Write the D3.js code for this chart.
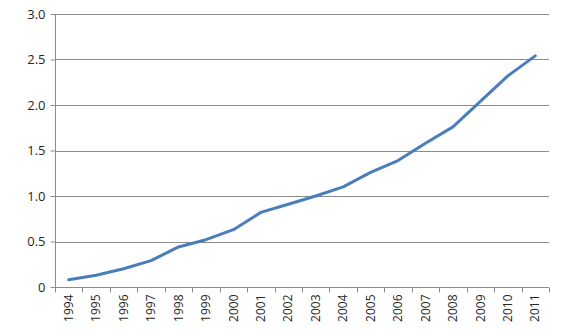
<!DOCTYPE html>
<html><head><meta charset="utf-8">
<script src="https://cdn.jsdelivr.net/npm/d3@7"></script>
<style>body{margin:0;background:#fff;}svg{display:block;}</style>
</head><body>
<svg id="c" width="563" height="335"></svg>
<script>
const years = ["1994","1995","1996","1997","1998","1999","2000","2001","2002","2003","2004","2005","2006","2007","2008","2009","2010","2011"];
const values = [0.08,0.13,0.20,0.29,0.44,0.52,0.63,0.82,0.91,1.00,1.10,1.26,1.39,1.58,1.76,2.04,2.32,2.54];
const yTicks = [0,0.5,1.0,1.5,2.0,2.5,3.0];
const yTickLabels = ["0","0.5","1.0","1.5","2.0","2.5","3.0"];

(function(){
const svg = d3.select("#c");
const pL = 55, pR = 549, pT = 14, pB = 287;
const x = d3.scaleBand().domain(years).range([pL, pR]).padding(0);
const y = d3.scaleLinear().domain([0,3]).range([pB, pT]);
const font = "'Open Sans', 'DejaVu Sans', sans-serif";
const gridCol = "#8c8c8c";

svg.append("g").selectAll("line").data(yTicks.slice(1)).join("line")
  .attr("x1", pL).attr("x2", pR)
  .attr("y1", d => Math.round(y(d))+0.5).attr("y2", d => Math.round(y(d))+0.5)
  .attr("stroke", gridCol).attr("stroke-width", 1);

const ya = svg.append("g").attr("transform", `translate(${pL+0.5},0)`)
  .call(d3.axisLeft(y).tickValues(yTicks).tickFormat((d,i)=>yTickLabels[i]).tickSize(5).tickPadding(5));
ya.select(".domain").attr("stroke", gridCol).attr("d", `M0,${pT}V${pB}`);
ya.selectAll(".tick line").attr("stroke", gridCol);
ya.selectAll(".tick text").attr("font-family", font).attr("font-size", 13).attr("fill", "#262626");

const xa = svg.append("g").attr("transform", `translate(0,${Math.round(pB)+0.5})`)
  .call(d3.axisBottom(x).tickSize(0).tickPadding(0));
xa.select(".domain").attr("stroke", gridCol).attr("d", `M${pL},0H${pR}`);
xa.selectAll(".tick line").remove();
const bounds = years.map(d => x(d)).concat([pR]);
xa.selectAll(".bt").data(bounds).join("line").attr("class","bt")
  .attr("x1", d => Math.round(d)+0.5).attr("x2", d => Math.round(d)+0.5)
  .attr("y1", 0).attr("y2", 5).attr("stroke", gridCol);
xa.selectAll(".tick text")
  .attr("font-family", font).attr("font-size", 12).attr("fill", "#262626")
  .attr("transform", "rotate(-90)")
  .attr("text-anchor", "end").attr("x", -7).attr("y", 0).attr("dy", "0.35em");

const line = d3.line().x((d,i) => x(years[i]) + x.bandwidth()/2).y(d => y(d));
svg.append("path").datum(values).attr("d", line)
  .attr("fill", "none").attr("stroke", "#4a7ebb").attr("stroke-width", 3)
  .attr("stroke-linejoin", "round").attr("stroke-linecap", "round");
})();
</script>
</body></html>
